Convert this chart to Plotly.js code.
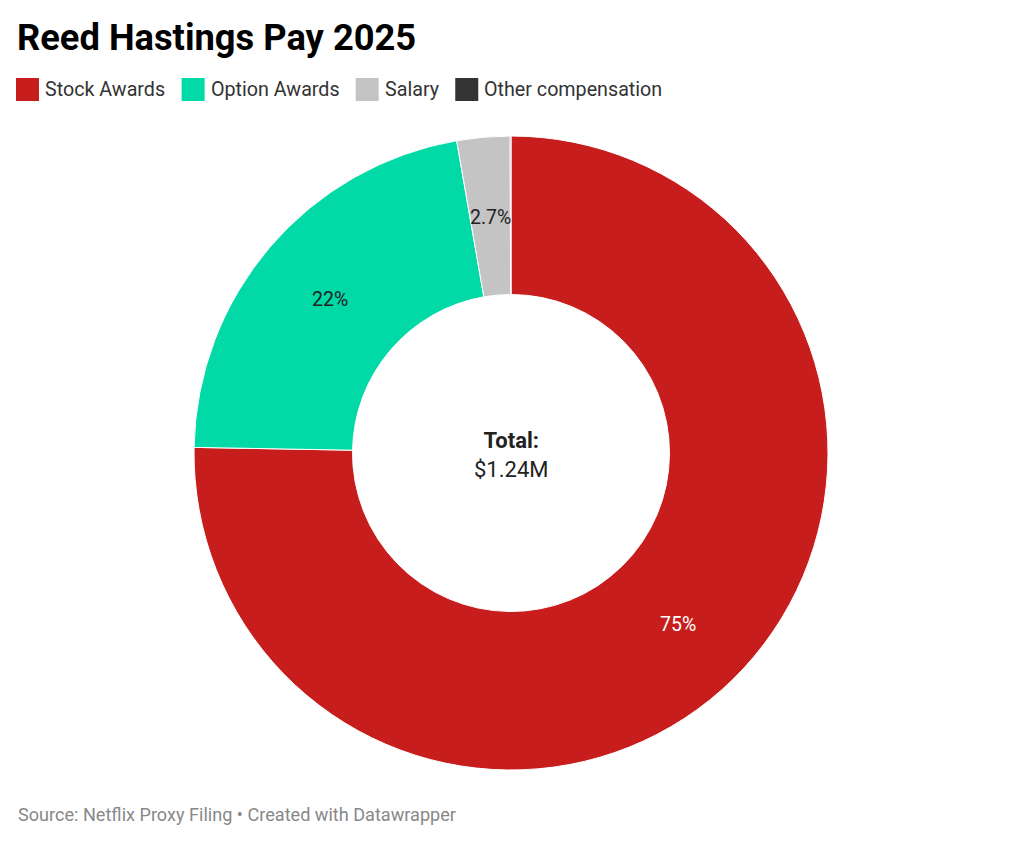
<!DOCTYPE html>
<html><head><meta charset="utf-8">
<script src="https://cdn.plot.ly/plotly-3.0.1.min.js"></script>
<style>html,body{margin:0;padding:0;background:#fff}#chart{width:1024px;height:842px}</style>
</head><body><div id="chart"></div>
<script>
// ---- data ----
const categories = ["Stock Awards", "Option Awards", "Salary", "Other compensation"];
const values = [933500, 272500, 33500, 500];
const sliceLabels = ["75%", "22%", "2.7%", ""];
const totalTitle = "Total:";
const totalValue = "$1.24M";
const chartTitle = "Reed Hastings Pay 2025";
const sourceNote = "Source: Netflix Proxy Filing • Created with Datawrapper";

// ---- styles ----
const colors = ["#c71d1d", "#01d9a6", "#c4c4c4", "#333333"];
const labelColors = ["#ffffff", "#222222", "#222222", "#222222"];
const W = 1024, H = 842;
const FONT = "Roboto, 'Noto Sans', sans-serif";

// pie geometry (pixels)
const cx = 511, cy = 453, R = 317, HOLE = 0.5;

const trace = {
  type: "pie",
  values: values,
  labels: categories,
  textinfo: "none",
  hole: HOLE,
  sort: false,
  direction: "clockwise",
  rotation: 0,
  marker: {colors: colors, line: {color: "#ffffff", width: 1}},
  domain: {x: [(cx - R) / W, (cx + R) / W], y: [(H - cy - R) / H, (H - cy + R) / H]},
  showlegend: false,
  hoverinfo: "none"
};

const shapes = [], annotations = [];

// slice labels placed at mid-angle, mid-ring, derived from the values
const total = values.reduce((a, b) => a + b, 0);
let cum = 0;
const rMid = R * (1 + HOLE) / 2;
values.forEach((v, i) => {
  const mid = (cum + v / 2) / total * 2 * Math.PI;
  cum += v;
  if (!sliceLabels[i]) return;
  const px = cx + rMid * Math.sin(mid);
  const py = cy - rMid * Math.cos(mid) + 1.5;
  annotations.push({xref: "paper", yref: "paper", x: px / W, y: 1 - py / H,
    xanchor: "center", yanchor: "middle", showarrow: false, text: sliceLabels[i],
    font: {family: FONT, size: 19.5, color: labelColors[i]}});
});

// custom legend built from categories + colors, widths measured
const LEG_SIZE = 19.7;
const ctx = document.createElement("canvas").getContext("2d");
ctx.font = LEG_SIZE + "px Roboto";
let xpos = 16;
const legY = 89.5, sw = 23;
categories.forEach((c, i) => {
  shapes.push({type: "rect", xref: "paper", yref: "paper",
    x0: xpos / W, x1: (xpos + sw) / W, y0: 1 - (legY + sw / 2) / H, y1: 1 - (legY - sw / 2) / H,
    fillcolor: colors[i], line: {width: 0}});
  const tx = xpos + sw + 4;
  annotations.push({xref: "paper", yref: "paper", x: tx / W, y: 1 - legY / H,
    xanchor: "left", yanchor: "middle", showarrow: false, text: c,
    font: {family: FONT, size: LEG_SIZE, color: "#333333"}});
  xpos = tx + ctx.measureText(c).width + 18.5;
});

annotations.push({xref: "paper", yref: "paper", x: cx / W, y: 1 - (cy + 2) / H,
  xanchor: "center", yanchor: "middle", showarrow: false,
  text: "<b>" + totalTitle + "</b><br>" + totalValue,
  font: {family: FONT, size: 22, color: "#222222"}});

annotations.push({xref: "paper", yref: "paper", x: 16 / W, y: 1 - 814 / H,
  xanchor: "left", yanchor: "middle", showarrow: false, text: sourceNote,
  font: {family: FONT, size: 18.1, color: "#888888"}});

const layout = {
  width: W, height: H,
  margin: {l: 0, r: 0, t: 0, b: 0},
  paper_bgcolor: "#ffffff",
  title: {text: "<b>" + chartTitle + "</b>", x: 17 / W, xanchor: "left", y: 1 - 37 / H, yanchor: "middle",
    font: {family: FONT, size: 36.3, color: "#000000"}},
  showlegend: false,
  shapes: shapes,
  annotations: annotations
};

Plotly.newPlot("chart", [trace], layout, {displayModeBar: false, staticPlot: true});
</script>
</body></html>
